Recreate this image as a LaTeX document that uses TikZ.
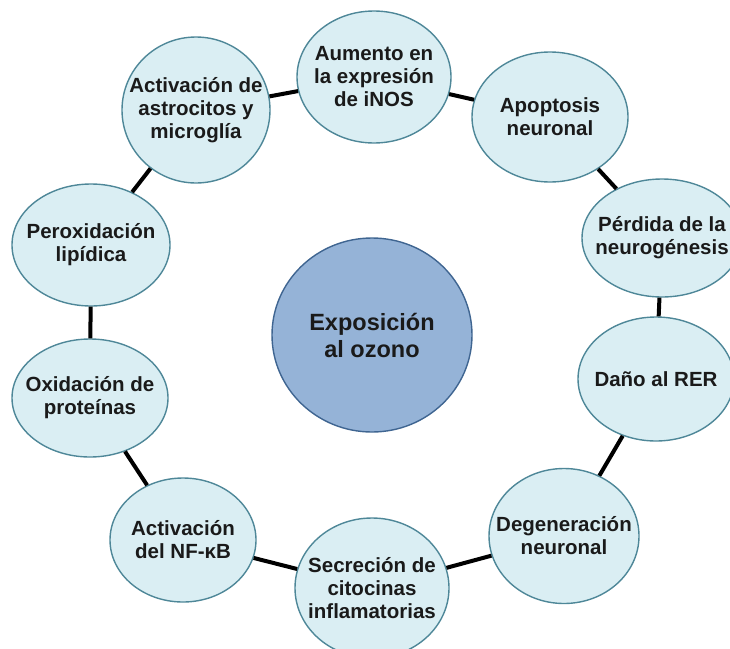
\documentclass[tikz,border=0pt]{standalone}
\usepackage{fontspec}
\setmainfont{Liberation Sans}
\usetikzlibrary{shapes.geometric}
\definecolor{bub-fill}{HTML}{DAEEF3}
\definecolor{bub-line}{HTML}{4E8798}
\definecolor{core-fill}{HTML}{95B3D7}
\definecolor{core-line}{HTML}{3F6591}
\definecolor{txt-col}{HTML}{1A1A1A}
\tikzset{
  bub/.style={ellipse, draw=bub-line, fill=bub-fill, line width=1.4pt, inner sep=0pt},
  txt/.style={align=center, text=txt-col, font=\bfseries\fontsize{20.5}{23}\selectfont},
  link/.style={-, line width=4pt, black}
}
\begin{document}
\begin{tikzpicture}[x=1pt, y=-1pt]
\useasboundingbox (0,0) rectangle (730,648);
\node[bub, minimum width=154pt, minimum height=132pt, label={[txt]center:Aumento en\\la expresión\\de iNOS}] (1) at (374,77) {};
\node[bub, minimum width=156pt, minimum height=130pt, label={[txt]center:Apoptosis\\neuronal}] (2) at (550,117) {};
\node[bub, minimum width=160pt, minimum height=118pt, label={[txt]center:Pérdida de la\\neurogénesis}] (3) at (662,238) {};
\node[bub, minimum width=156pt, minimum height=124pt, label={[txt]center:Daño al RER}] (4) at (656,379) {};
\node[bub, minimum width=150pt, minimum height=135pt, label={[txt]center:Degeneración\\neuronal}] (5) at (564,536) {};
\node[bub, minimum width=154pt, minimum height=140pt, label={[txt]center:Secreción de\\citocinas\\inflamatorias}] (6) at (372,588) {};
\node[bub, minimum width=146pt, minimum height=124pt, label={[txt]center:Activación\\del NF-κB}] (7) at (183,540) {};
\node[bub, minimum width=156pt, minimum height=118pt, label={[txt]center:Oxidación de\\proteínas}] (8) at (90,398) {};
\node[bub, minimum width=158pt, minimum height=122pt, label={[txt]center:Peroxidación\\lipídica}] (9) at (91,245) {};
\node[bub, minimum width=148pt, minimum height=146pt, label={[txt]center:Activación de\\astrocitos y\\microglía}] (10) at (196,110) {};
\node[ellipse, draw=core-line, fill=core-fill, line width=1.4pt, inner sep=0pt, minimum width=200pt, minimum height=194pt, label={[txt, font=\bfseries\fontsize{23.5}{27}\selectfont]center:Exposición\\al ozono}] (c) at (372,335) {};
\draw
(1) edge[link] (2)
(2) edge[link] (3)
(3) edge[link] (4)
(4) edge[link] (5)
(5) edge[link] (6)
(6) edge[link] (7)
(7) edge[link] (8)
(8) edge[link] (9)
(9) edge[link] (10)
(10) edge[link] (1);
\end{tikzpicture}
\end{document}
